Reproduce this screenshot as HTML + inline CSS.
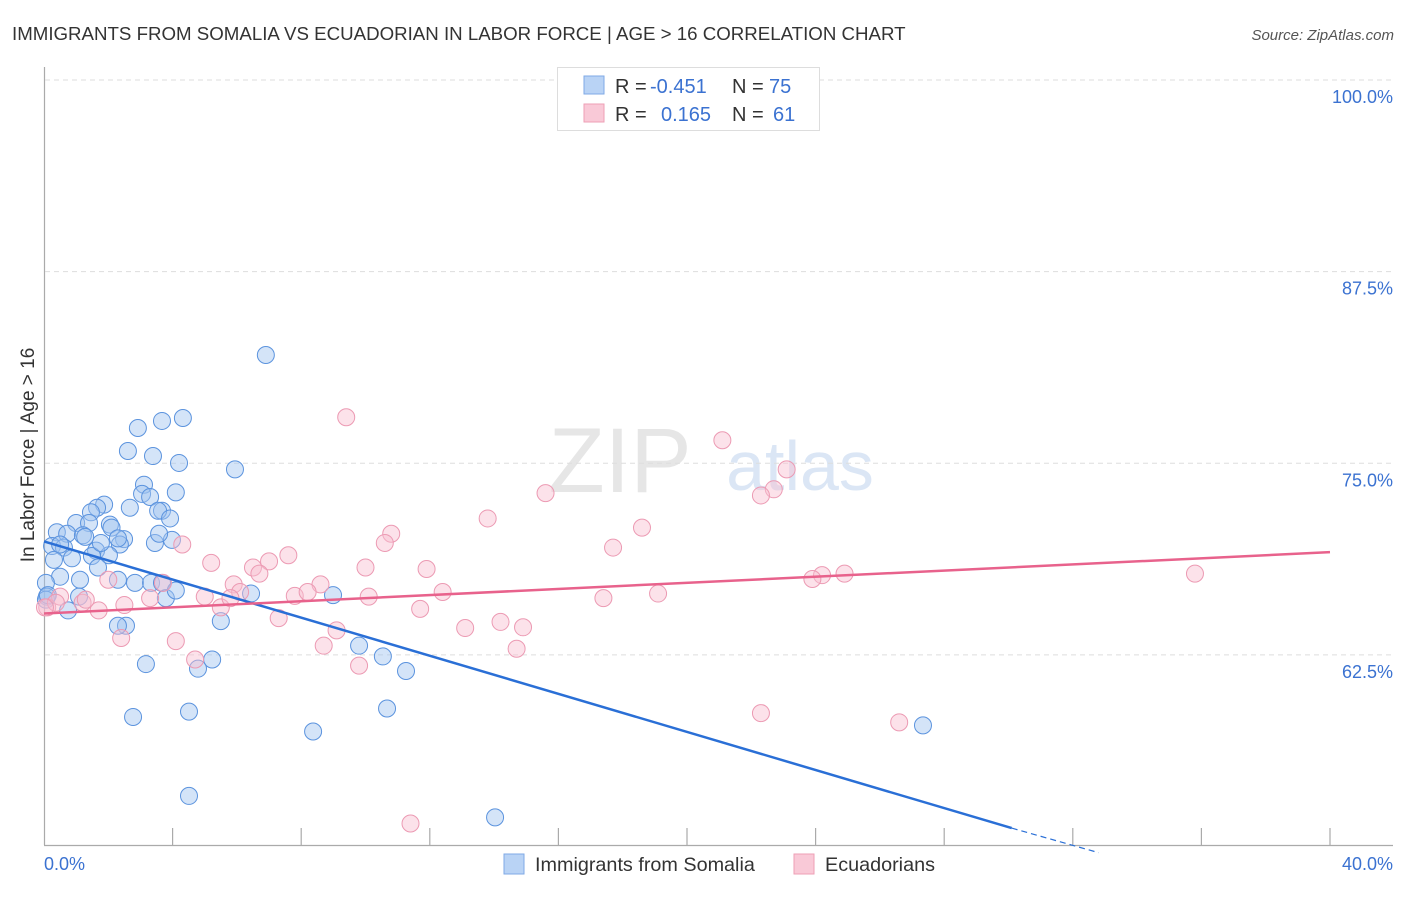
<!DOCTYPE html>
<html><head><meta charset="utf-8">
<style>
body{margin:0;background:#fff;font-family:"Liberation Sans",sans-serif;}
svg text{font-family:"Liberation Sans",sans-serif;}
</style></head>
<body>
<svg id="chart" width="1406" height="892">
<text x="12" y="40" font-size="18.7" fill="#333">IMMIGRANTS FROM SOMALIA VS ECUADORIAN IN LABOR FORCE | AGE &gt; 16 CORRELATION CHART</text>
<text x="1394" y="40" font-size="15" fill="#555" font-style="italic" text-anchor="end">Source: ZipAtlas.com</text>
<text x="620" y="492" font-size="92" fill="#e6e6e6" font-family="Liberation Serif" text-anchor="middle">ZIP</text>
<text x="800" y="490" font-size="70" fill="#dbe6f5" text-anchor="middle">atlas</text>
<g id="grid"></g>
<g id="pts"></g>
<g id="lines"></g>
<text transform="translate(34,455) rotate(-90)" font-size="19" fill="#333" text-anchor="middle">In Labor Force | Age &gt; 16</text>
<g>
<rect x="557.5" y="67.5" width="262" height="63" fill="#fff" stroke="#ddd"/>
<rect x="584" y="76" width="20" height="18" fill="#b9d3f5" stroke="#7faae6"/>
<rect x="584" y="104" width="20" height="18" fill="#f9c9d7" stroke="#ee9fb6"/>
<text x="615" y="93" font-size="20" fill="#333">R = <tspan x="650" fill="#3b72d1">-0.451</tspan><tspan x="732">N = </tspan><tspan x="769" fill="#3b72d1">75</tspan></text>
<text x="615" y="121" font-size="20" fill="#333">R = <tspan x="661" fill="#3b72d1">0.165</tspan><tspan x="732">N = </tspan><tspan x="773" fill="#3b72d1">61</tspan></text>
</g>
<g>
<rect x="504" y="854" width="20" height="20" fill="#b9d3f5" stroke="#7faae6"/>
<text x="535" y="871" font-size="19.8" fill="#333">Immigrants from Somalia</text>
<rect x="794" y="854" width="20" height="20" fill="#f9c9d7" stroke="#ee9fb6"/>
<text x="825" y="871" font-size="19.8" fill="#333">Ecuadorians</text>
</g>
</svg>
<script>
const yTicks=[100,87.5,75,62.5];
const yTickLabels=["100.0%","87.5%","75.0%","62.5%"];
const xTickVals=[0,4,8,12,16,20,24,28,32,36,40];
const xEndLabels=["0.0%","40.0%"];
const somaliaX=[6.9,4.32,3.67,2.92,2.61,3.39,4.2,5.94,3.11,4.1,3.05,3.3,1.87,2.67,1.65,1.46,3.67,3.55,3.92,1.0,1.4,2.05,2.1,0.4,0.72,1.21,2.49,3.45,3.98,3.58,0.25,0.62,2.36,1.62,0.87,1.49,0.31,2.02,1.68,0.5,1.12,0.06,2.3,2.83,3.33,3.67,6.44,8.99,0.09,1.09,0.75,3.79,4.1,5.5,2.55,2.3,9.8,10.54,5.23,3.17,4.79,11.26,2.77,4.51,10.67,8.37,27.34,4.51,14.03,0.06,0.12,1.77,2.3,1.28,0.5];
const somaliaY=[82.06,77.95,77.76,77.3,75.8,75.47,75.02,74.6,73.6,73.1,73.0,72.8,72.3,72.1,72.1,71.8,71.9,71.9,71.4,71.1,71.1,71.0,70.8,70.5,70.4,70.3,70.05,69.8,70.0,70.4,69.6,69.5,69.7,69.3,68.8,68.95,68.7,69.0,68.2,67.6,67.4,67.2,67.4,67.2,67.2,67.2,66.5,66.4,66.3,66.3,65.4,66.2,66.7,64.7,64.4,64.4,63.1,62.4,62.2,61.9,61.6,61.45,58.45,58.8,59.0,57.5,57.9,53.3,51.9,66.1,66.4,69.8,70.1,70.2,69.7];
const ecuadorX=[9.4,21.1,23.1,22.7,22.3,15.6,13.8,10.8,18.6,10.6,4.3,17.7,7.6,7.0,5.2,6.5,10.0,11.9,6.7,5.9,8.6,2.0,3.7,35.8,24.2,24.9,23.9,6.1,10.1,12.4,17.4,19.1,7.8,8.2,5.0,3.3,2.5,1.2,0.5,0.1,5.5,0.37,1.7,11.7,7.3,14.2,14.9,13.1,9.1,4.1,2.4,8.7,14.7,4.7,9.8,22.3,26.6,11.4,1.3,0.03,5.8];
const ecuadorY=[78.0,76.5,74.6,73.3,72.9,73.05,71.4,70.4,70.8,69.8,69.7,69.5,69.0,68.6,68.5,68.2,68.2,68.1,67.8,67.1,67.1,67.4,67.2,67.8,67.7,67.8,67.45,66.6,66.3,66.6,66.2,66.5,66.35,66.6,66.3,66.2,65.75,65.9,66.3,65.6,65.6,65.9,65.4,65.5,64.9,64.65,64.3,64.25,64.1,63.4,63.6,63.1,62.9,62.2,61.8,58.7,58.1,51.5,66.1,65.6,66.2];
const somaliaLine=[0,69.9,30.1,51.2,32.8,49.6];
const ecuadorLine=[0,65.2,40,69.2];
const X0=44,X1=1330,Y0=80,YS=15.33;
const xs=v=>X0+(X1-X0)*v/40;
const ys=v=>Y0+(100-v)*YS;
const NS="http://www.w3.org/2000/svg";
function mk(tag,attrs,parent){const e=document.createElementNS(NS,tag);for(const k in attrs)e.setAttribute(k,attrs[k]);parent.appendChild(e);return e;}
const grid=document.getElementById('grid');
const ax=mk('line',{x1:44.5,y1:67,x2:44.5,y2:845,stroke:'#aaa','stroke-width':1.2},grid);


const bx=mk('line',{x1:44,y1:845.5,x2:1393,y2:845.5,stroke:'#aaa','stroke-width':1.2},grid);


yTicks.forEach((t,i)=>{
 const g=mk('line',{x1:45,y1:ys(t),x2:1393,y2:ys(t),stroke:'#ddd','stroke-dasharray':'5,4'},grid);
 
 
 const tx=mk('text',{x:1393,y:ys(t)+23,'font-size':18,fill:'#3b72d1','text-anchor':'end'},grid);
 tx.textContent=yTickLabels[i];
 
 
});
xTickVals.forEach(t=>{
 if(t===0)return;
 const l=mk('line',{x1:xs(t),y1:828,x2:xs(t),y2:845,stroke:'#aaa','stroke-width':1.2},grid);
 
 
});
const xl0=mk('text',{x:44,y:870,'font-size':18,fill:'#3b72d1'},grid);
xl0.textContent=xEndLabels[0];


const xl1=mk('text',{x:1393,y:870,'font-size':18,fill:'#3b72d1','text-anchor':'end'},grid);
xl1.textContent=xEndLabels[1];


const pts=document.getElementById('pts');
somaliaX.forEach((x,i)=>{
 const c=mk('circle',{cx:xs(x),cy:ys(somaliaY[i]),r:8.5,fill:'rgba(160,196,240,0.45)',stroke:'#5b93de','stroke-width':1},pts);
 
 
});
ecuadorX.forEach((x,i)=>{
 const c=mk('circle',{cx:xs(x),cy:ys(ecuadorY[i]),r:8.5,fill:'rgba(248,190,208,0.45)',stroke:'#ec9ab3','stroke-width':1},pts);
 
 
});
const lines=document.getElementById('lines');
const sl=mk('line',{x1:xs(somaliaLine[0]),y1:ys(somaliaLine[1]),x2:xs(somaliaLine[2]),y2:ys(somaliaLine[3]),stroke:'#2a6fd6','stroke-width':2.5},lines);


const sd=mk('line',{x1:xs(somaliaLine[2]),y1:ys(somaliaLine[3]),x2:xs(somaliaLine[4]),y2:ys(somaliaLine[5]),stroke:'#2a6fd6','stroke-width':1.2,'stroke-dasharray':'6,4'},lines);


const el=mk('line',{x1:xs(ecuadorLine[0]),y1:ys(ecuadorLine[1]),x2:xs(ecuadorLine[2]),y2:ys(ecuadorLine[3]),stroke:'#e8628c','stroke-width':2.5},lines);


</script>
</body></html>
